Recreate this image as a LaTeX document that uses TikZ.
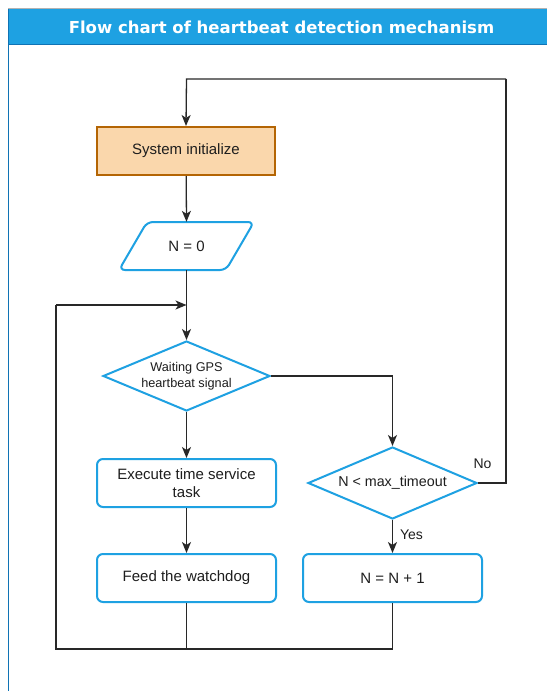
\documentclass[tikz,border=0pt]{standalone}
\usepackage{fontspec}
\setmainfont{Liberation Sans}
\newfontfamily\titlefont{DejaVu Sans}
\usetikzlibrary{shapes.geometric,arrows.meta}
\definecolor{hdrblue}{RGB}{30,161,226}
\definecolor{hdredge}{RGB}{16,115,180}
\definecolor{boxblue}{RGB}{30,161,226}
\definecolor{initfill}{RGB}{250,215,172}
\definecolor{initedge}{RGB}{180,101,4}
\definecolor{linegray}{RGB}{40,40,40}
\definecolor{txt}{RGB}{30,30,30}
\tikzset{
  procbox/.style={draw=boxblue, line width=2pt, rounded corners=6pt, fill=white,
    minimum width=179pt, minimum height=48pt, inner sep=0pt, align=center,
    font=\fontsize{15}{18}\selectfont, text=txt},
  initbox/.style={draw=initedge, line width=2pt, fill=initfill,
    minimum width=178pt, minimum height=48pt, inner sep=0pt,
    font=\fontsize{15}{18}\selectfont, text=txt},
  decbox/.style={draw=boxblue, line width=2pt, diamond, aspect=2.4, inner sep=0pt,
    fill=white, align=center, text=txt},
  conn/.style={draw=linegray, line width=1.3pt},
  arr/.style={conn, -{Stealth[length=11pt,width=9pt,inset=3pt]}},
  lbl/.style={font=\fontsize{14}{16}\selectfont, text=txt}
}
\begin{document}
\begin{tikzpicture}[x=1pt,y=-1pt]
\useasboundingbox (0,0) rectangle (547,691);
% frame
\fill[white] (0,0) rectangle (547,691);
\draw[black!30, line width=1pt] (8,8.5) -- (547,8.5);
\fill[hdrblue] (8,9) rectangle (547,44);
\draw[hdredge, line width=1pt] (8,44) -- (547,44);
\draw[hdredge, line width=1.5pt] (8.5,9) -- (8.5,691);
\node[text=white, font=\titlefont\bfseries\fontsize{16.5}{19}\selectfont] (title) at (281.5,27) {Flow chart of heartbeat detection mechanism};

% nodes
\node[initbox] (init) at (186,151) {System initialize};
\draw[boxblue, line width=2pt, rounded corners=6pt, fill=white]
  (147,222) -- (254,222) -- (226,270) -- (119,270) -- cycle;
\node[minimum width=135pt, minimum height=48pt, inner sep=0pt,
  font=\fontsize{15}{18}\selectfont, text=txt] (n0) at (186.5,246) {N = 0};
\node[decbox, minimum width=167pt, minimum height=70pt,
  font=\fontsize{12.7}{16}\selectfont] (wait) at (186.5,376) {Waiting GPS\\heartbeat signal};
\node[procbox] (exec) at (186.5,483) {Execute time service\\task};
\node[procbox] (feed) at (186.5,578) {Feed the watchdog};
\node[decbox, minimum width=169pt, minimum height=72pt,
  font=\fontsize{14.3}{17}\selectfont] (cmp) at (392.5,483) {N < max\_timeout};
\node[procbox] (inc) at (392.5,578) {N = N + 1};

% helper coordinates
\coordinate (top) at (186.5,79);
\coordinate (topR) at (506,79);
\coordinate (noR) at (506,483);
\coordinate (botL) at (56,649);
\coordinate (loopTop) at (56,305);
\coordinate (loopIn) at (186.5,305);
\coordinate (botM) at (186.5,649);
\coordinate (botR) at (392.5,649);
\coordinate (waitR) at (392.5,376);

% connectors
\draw[arr] (topR) -- (top) -- (init.north);
\draw[arr] (init) -- (n0.north);
\draw[arr] (n0.south) -- (wait.north);
\draw[arr] (wait) -- (exec);
\draw[arr] (exec) -- (feed);
\draw[arr] (wait.east) -- (waitR) -- (cmp.north);
\draw[arr] (cmp) -- (inc);
\draw[conn] (cmp.east) -- (noR) -- (topR);
\draw[conn] (feed.south) -- (botM);
\draw[conn] (inc.south) -- (botR) -- (botL) -- (loopTop);
\draw[arr] (loopTop) -- (loopIn);

% labels
\node[lbl] (nolbl) at (482.5,464) {No};
\node[lbl] (yeslbl) at (411.5,535) {Yes};
\end{tikzpicture}
\end{document}
